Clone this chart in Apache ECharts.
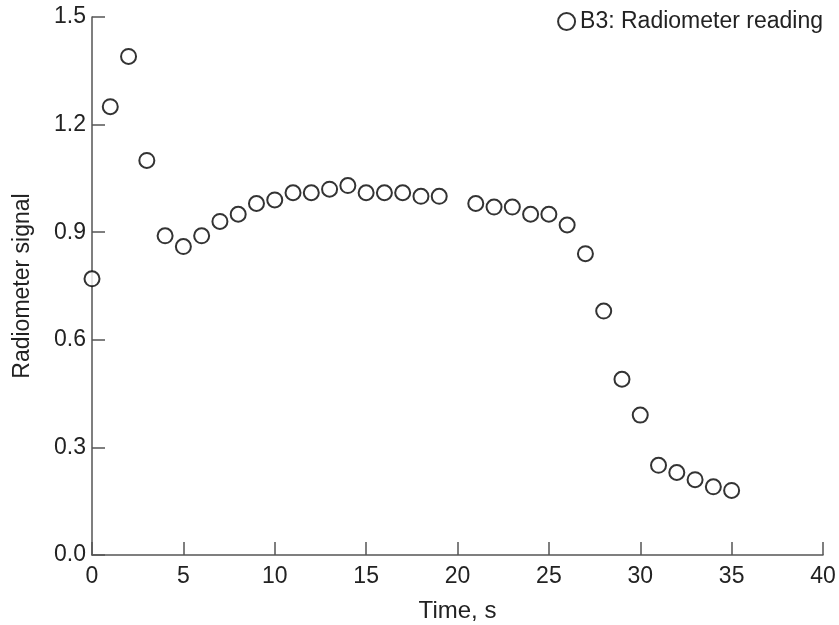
<!doctype html>
<html>
	<head>
		<meta charset="utf-8">
		<title>Radiometer reading</title>
		<script type="text/javascript" src="https://cdn.jsdelivr.net/npm/echarts@6/dist/echarts.min.js"></script>
	</head>

	<body style="margin:0;padding:0;background:#fff">
		<div id="tb" style="width:839px;height:625px;"></div>
		<script>
			// time in seconds (t=20 has no reading)
			var times = [0, 1, 2, 3, 4, 5, 6, 7, 8, 9, 10, 11, 12, 13, 14, 15, 16, 17, 18, 19,
				21, 22, 23, 24, 25, 26, 27, 28, 29, 30, 31, 32, 33, 34, 35];
			// radiometer signal
			var signal = [0.77, 1.25, 1.39, 1.10, 0.89, 0.86, 0.89, 0.93, 0.95, 0.98, 0.99, 1.01, 1.01, 1.02, 1.03, 1.01, 1.01, 1.01, 1.00, 1.00,
				0.98, 0.97, 0.97, 0.95, 0.95, 0.92, 0.84, 0.68, 0.49, 0.39, 0.25, 0.23, 0.21, 0.19, 0.18];
			var seriesName = 'B3: Radiometer reading';

			var points = times.map(function(t, i) {
				return [t, signal[i]];
			});

			var fontFamily = '"Liberation Sans", Arial, sans-serif';
			var axisColor = '#555';
			var textColor = '#222';

			var chart = echarts.init(document.getElementById('tb'));
			chart.setOption({
				animation: false,
				textStyle: {fontFamily: fontFamily},
				grid: {left: 92, right: 16, top: 17, bottom: 70, outerBoundsMode: 'none'},
				legend: {
					right: 11,
					top: 5,
					itemWidth: 17,
					itemHeight: 17,
					itemGap: 6,
					textStyle: {fontSize: 23, color: textColor, fontFamily: fontFamily},
					data: [seriesName]
				},
				xAxis: {
					type: 'value',
					min: 0,
					max: 40,
					interval: 5,
					name: 'Time, s',
					nameLocation: 'middle',
					nameGap: 44,
					nameTextStyle: {fontSize: 24, color: textColor},
					axisLine: {lineStyle: {color: axisColor, width: 1.5}},
					axisTick: {inside: true, length: 13, lineStyle: {color: axisColor, width: 1.5}},
					axisLabel: {fontSize: 23, color: textColor, margin: 10},
					splitLine: {show: false}
				},
				yAxis: {
					type: 'value',
					min: 0,
					max: 1.5,
					interval: 0.3,
					name: 'Radiometer signal',
					nameLocation: 'middle',
					nameGap: 58,
					nameTextStyle: {fontSize: 23, color: textColor},
					axisLine: {show: true, lineStyle: {color: axisColor, width: 1.5}},
					axisTick: {show: true, inside: true, length: 13, lineStyle: {color: axisColor, width: 1.5}},
					axisLabel: {
						fontSize: 23,
						color: textColor,
						margin: 6,
						formatter: function(v) { return v.toFixed(1); }
					},
					splitLine: {show: false}
				},
				series: [{
					name: seriesName,
					type: 'scatter',
					symbol: 'circle',
					symbolSize: 15,
					itemStyle: {color: '#fff', borderColor: '#000', borderWidth: 2},
					data: points
				}]
			});
		</script>
	</body>
</html>
